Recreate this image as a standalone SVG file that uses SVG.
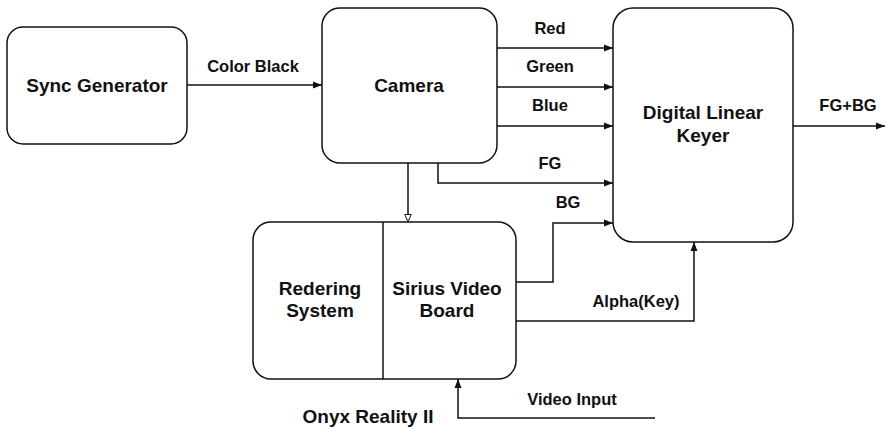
<svg xmlns="http://www.w3.org/2000/svg" width="885" height="427" viewBox="0 0 885 427">
<style>
.box{fill:#fff;stroke:#111;stroke-width:1.5}
.ln{fill:none;stroke:#111;stroke-width:1.5}
.nt{font-family:"Liberation Sans",Arial,sans-serif;font-weight:bold;font-size:19px;fill:#111;text-anchor:middle}
.lb{font-family:"Liberation Sans",Arial,sans-serif;font-weight:bold;font-size:16.5px;fill:#111;text-anchor:middle}
</style>
<defs>
<marker id="a" markerWidth="10" markerHeight="8" refX="9" refY="4" orient="auto" markerUnits="userSpaceOnUse">
<path d="M0,0.5 L9,4 L0,7.5 Z" fill="#111"/>
</marker>
<marker id="h" markerWidth="10" markerHeight="10" refX="8" refY="4" orient="auto" markerUnits="userSpaceOnUse">
<path d="M0.5,0.8 L8,4 L0.5,7.2 Z" fill="#fff" stroke="#111" stroke-width="1"/>
</marker>
</defs>
<rect width="885" height="427" fill="#fff"/>
<g id="connectors">
<path class="ln" d="M187,85 H322" marker-end="url(#a)"/>
<path class="ln" d="M497,48 H613" marker-end="url(#a)"/>
<path class="ln" d="M497,87 H613" marker-end="url(#a)"/>
<path class="ln" d="M497,126 H613" marker-end="url(#a)"/>
<path class="ln" d="M438,163 V183 H613" marker-end="url(#a)"/>
<path class="ln" d="M408,163 V222" marker-end="url(#h)"/>
<path class="ln" d="M516,282 H553 V223 H613" marker-end="url(#a)"/>
<path class="ln" d="M516,321 H694 V242" marker-end="url(#a)"/>
<path class="ln" d="M655,418 H458 V379" marker-end="url(#a)"/>
<path class="ln" d="M793,126 H885" marker-end="url(#a)"/>
<text class="lb" x="253" y="72">Color Black</text>
<text class="lb" x="550" y="34">Red</text>
<text class="lb" x="550" y="72">Green</text>
<text class="lb" x="550" y="111">Blue</text>
<text class="lb" x="550" y="169">FG</text>
<text class="lb" x="568" y="208">BG</text>
<text class="lb" x="636" y="307">Alpha(Key)</text>
<text class="lb" x="572" y="405">Video Input</text>
<text class="lb" x="848" y="111">FG+BG</text>
</g>
<g id="sync">
<rect class="box" x="7" y="27" width="180" height="117" rx="16"/>
<text class="nt" x="97" y="92">Sync Generator</text>
</g>
<g id="camera">
<rect class="box" x="322" y="8" width="175" height="155" rx="18"/>
<text class="nt" x="409" y="92">Camera</text>
</g>
<g id="keyer">
<rect class="box" x="613" y="8" width="180" height="234" rx="20"/>
<text class="nt" x="703" y="119">Digital Linear</text>
<text class="nt" x="703" y="142">Keyer</text>
</g>
<g id="onyx">
<rect class="box" x="253" y="222" width="263" height="157" rx="18"/>
<path class="ln" d="M383,222 V379"/>
<text class="nt" x="320" y="295">Redering</text>
<text class="nt" x="320" y="317">System</text>
<text class="nt" x="447" y="295">Sirius Video</text>
<text class="nt" x="447" y="317">Board</text>
<text class="nt" x="368" y="423">Onyx Reality II</text>
</g>
</svg>
